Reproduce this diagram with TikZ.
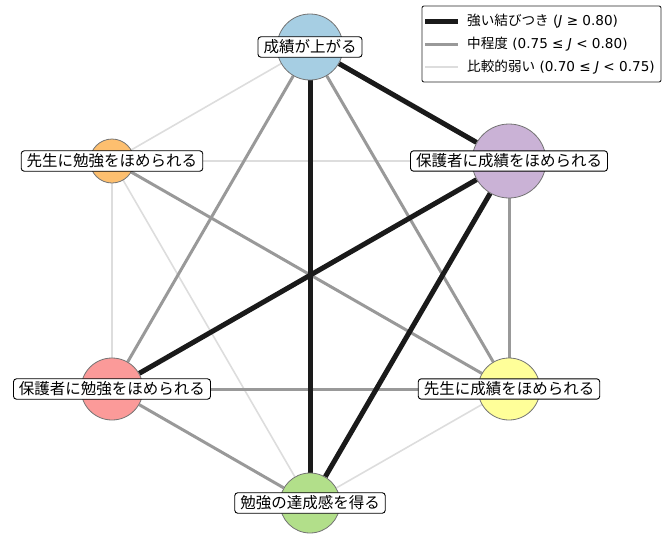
\documentclass[tikz,border=0pt]{standalone}
\usepackage{fontspec}
\setmainfont{DejaVu Sans}
\newfontfamily\cjk{Noto Sans CJK JP}
\usetikzlibrary{backgrounds}
\definecolor{cBlue}{HTML}{A6CEE3}
\definecolor{cPurple}{HTML}{CAB2D6}
\definecolor{cOrange}{HTML}{FDBF6F}
\definecolor{cPink}{HTML}{FB9A99}
\definecolor{cYellow}{HTML}{FFFF99}
\definecolor{cGreen}{HTML}{B2DF8A}
\definecolor{eStrong}{HTML}{1A1A1A}
\definecolor{eMedium}{HTML}{999999}
\definecolor{eWeak}{HTML}{DDDDDD}
\begin{document}
\begin{tikzpicture}[x=1pt,y=-1pt,
  vtx/.style={circle, draw=black!55, line width=0.8pt, inner sep=0pt},
  lbl/.style={draw=black, fill=white, rounded corners=3pt, line width=0.9pt,
    font=\cjk\fontsize{15.5}{18}\selectfont, inner xsep=5.5pt, inner ysep=3pt},
  strongedge/.style={line width=5pt, draw=eStrong},
  mediumedge/.style={line width=3pt, draw=eMedium},
  weakedge/.style={line width=1.6pt, draw=eWeak},
  legtext/.style={anchor=west, inner sep=0pt, font=\fontsize{13.6}{15}\selectfont}]
\useasboundingbox (0,0) rectangle (665,536);

% vertices
\node[vtx, fill=cBlue,   minimum size=66pt] (A) at (310,47)  {};
\node[vtx, fill=cPurple, minimum size=74pt] (B) at (509,161) {};
\node[vtx, fill=cOrange, minimum size=44pt] (C) at (112,161) {};
\node[vtx, fill=cPink,   minimum size=62pt] (D) at (112,389) {};
\node[vtx, fill=cYellow, minimum size=62pt] (E) at (509,389) {};
\node[vtx, fill=cGreen,  minimum size=60pt] (F) at (310,503) {};

% edges
\begin{scope}[on background layer]
  \draw[weakedge] (A) -- (C);
  \draw[weakedge] (C) -- (B);
  \draw[weakedge] (C) -- (D);
  \draw[weakedge] (C) -- (F);
  \draw[weakedge] (E) -- (F);
  \draw[mediumedge] (A) -- (D);
  \draw[mediumedge] (A) -- (E);
  \draw[mediumedge] (C) -- (E);
  \draw[mediumedge] (B) -- (E);
  \draw[mediumedge] (D) -- (E);
  \draw[mediumedge] (D) -- (F);
  \draw[strongedge] (A) -- (B);
  \draw[strongedge] (A) -- (F);
  \draw[strongedge] (B) -- (D);
  \draw[strongedge] (B) -- (F);
\end{scope}

% labels
\node[lbl] (tA) at (A) {成績が上がる};
\node[lbl] (tB) at (B) {保護者に成績をほめられる};
\node[lbl] (tC) at (C) {先生に勉強をほめられる};
\node[lbl] (tD) at (D) {保護者に勉強をほめられる};
\node[lbl] (tE) at (E) {先生に成績をほめられる};
\node[lbl] (tF) at (F) {勉強の達成感を得る};

% legend
\draw[black!85, line width=0.9pt, fill=white, rounded corners=2pt] (422,6) rectangle (661,82);
\draw[strongedge] (425,21) -- (458,21);
\draw[mediumedge] (425,44) -- (458,44);
\draw[weakedge] (425,67) -- (458,67);
\node[legtext] (l1) at (467,21) {{\cjk 強い結びつき} (\textit{J} ≥ 0.80)};
\node[legtext] (l2) at (467,44) {{\cjk 中程度} (0.75 ≤ \textit{J} < 0.80)};
\node[legtext] (l3) at (467,67) {{\cjk 比較的弱い} (0.70 ≤ \textit{J} < 0.75)};
\end{tikzpicture}
\end{document}
